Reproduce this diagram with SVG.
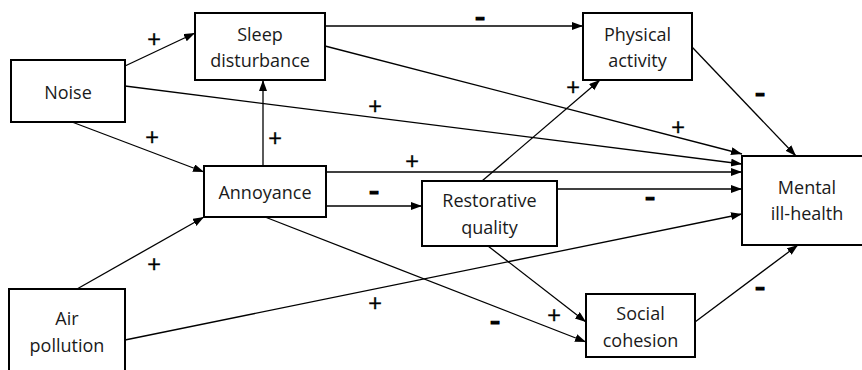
<svg xmlns="http://www.w3.org/2000/svg" width="862" height="370" viewBox="0 0 862 370">
<style>
.box{fill:#fff;stroke:#000;stroke-width:2}
.t{font-family:"Open Sans","Noto Sans",sans-serif;font-size:18px;text-anchor:middle;fill:#1a1a1a}
.e{stroke:#000;stroke-width:1.3;fill:none;marker-end:url(#ah)}
.p{font-family:"Open Sans","Noto Sans",sans-serif;font-size:24px;text-anchor:middle;fill:#000;stroke:#000;stroke-width:0.4}
.m{font-family:"Open Sans","Noto Sans",sans-serif;font-size:18px;font-weight:800;text-anchor:middle;fill:#000;stroke:#000;stroke-width:1}
</style>
<defs>
<marker id="ah" markerUnits="userSpaceOnUse" markerWidth="12" markerHeight="10" refX="11" refY="4" orient="auto">
<path d="M0,0 L11,4 L0,8 Z" fill="#000"/>
</marker>
</defs>
<rect width="862" height="370" fill="#fff"/>
<g id="connectors">
<line class="e" x1="125" y1="66" x2="195" y2="33"/>
<line class="e" x1="125" y1="86" x2="742" y2="164"/>
<line class="e" x1="72" y1="122" x2="204" y2="172"/>
<line class="e" x1="325" y1="26" x2="583" y2="26"/>
<line class="e" x1="325" y1="46" x2="742" y2="154"/>
<line class="e" x1="263" y1="166" x2="263" y2="80"/>
<line class="e" x1="326" y1="172" x2="742" y2="172"/>
<line class="e" x1="326" y1="206" x2="422" y2="206"/>
<line class="e" x1="265" y1="217" x2="586" y2="342"/>
<line class="e" x1="77" y1="289" x2="204" y2="217"/>
<line class="e" x1="125" y1="340" x2="742" y2="214"/>
<line class="e" x1="482" y1="181" x2="600" y2="80"/>
<line class="e" x1="557" y1="189" x2="742" y2="189"/>
<line class="e" x1="488" y1="246" x2="586" y2="322"/>
<line class="e" x1="692" y1="47" x2="796" y2="156"/>
<line class="e" x1="695" y1="322" x2="798" y2="245"/>
</g>
<g id="labels">
<text class="p" x="154" y="48">+</text>
<text class="p" x="152" y="146">+</text>
<text class="p" x="275" y="147">+</text>
<text class="p" x="375" y="115">+</text>
<text class="p" x="412" y="170">+</text>
<text class="p" x="573" y="96">+</text>
<text class="p" x="678" y="136">+</text>
<text class="p" x="154" y="273">+</text>
<text class="p" x="375" y="312">+</text>
<text class="p" x="554" y="324">+</text>
<text class="m" transform="translate(480,23) scale(1.5,1)">-</text>
<text class="m" transform="translate(760,99) scale(1.5,1)">-</text>
<text class="m" transform="translate(374,197) scale(1.5,1)">-</text>
<text class="m" transform="translate(650,203) scale(1.5,1)">-</text>
<text class="m" transform="translate(495,327) scale(1.5,1)">-</text>
<text class="m" transform="translate(760,293) scale(1.5,1)">-</text>
</g>
<g id="noise"><rect class="box" x="11" y="60" width="114" height="62"/><text class="t" x="68" y="99">Noise</text></g>
<g id="sleep"><rect class="box" x="195" y="13" width="130" height="67"/><text class="t" x="260" y="41">Sleep</text><text class="t" x="260" y="67">disturbance</text></g>
<g id="physical"><rect class="box" x="583" y="13" width="109" height="67"/><text class="t" x="637.5" y="41">Physical</text><text class="t" x="637.5" y="67">activity</text></g>
<g id="annoyance"><rect class="box" x="204" y="166" width="122" height="51"/><text class="t" x="265" y="199">Annoyance</text></g>
<g id="restorative"><rect class="box" x="422" y="181" width="135" height="65"/><text class="t" x="489.5" y="207">Restorative</text><text class="t" x="489.5" y="234">quality</text></g>
<g id="mental"><rect class="box" x="742" y="156" width="132" height="89"/><text class="t" x="807" y="194">Mental</text><text class="t" x="807" y="220">ill-health</text></g>
<g id="air"><rect class="box" x="9" y="289" width="116" height="90"/><text class="t" x="67" y="325">Air</text><text class="t" x="67" y="352">pollution</text></g>
<g id="social"><rect class="box" x="586" y="294" width="109" height="63"/><text class="t" x="640.5" y="320">Social</text><text class="t" x="640.5" y="347">cohesion</text></g>
</svg>
